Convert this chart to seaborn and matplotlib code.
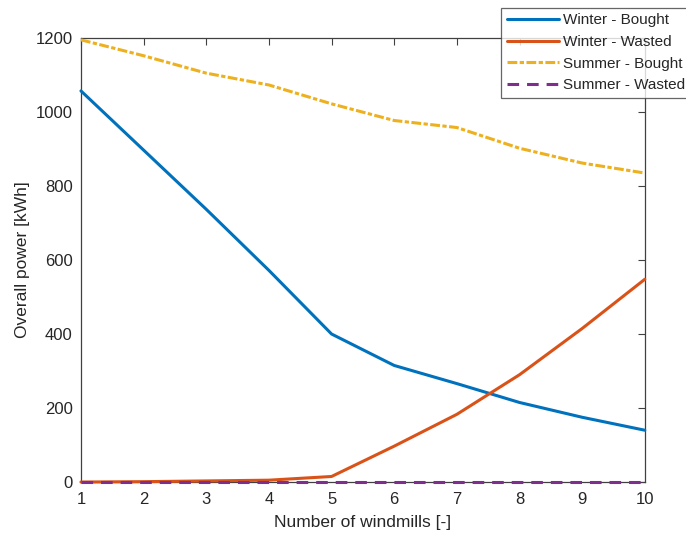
import matplotlib
matplotlib.use("Agg")
import matplotlib.pyplot as plt
import seaborn as sns
import pandas as pd

windmills = [1, 2, 3, 4, 5, 6, 7, 8, 9, 10]
winter_bought = [1057, 897, 737, 572, 400, 315, 266, 215, 175, 140]
winter_wasted = [0, 1, 3, 5, 15, 97, 183, 290, 415, 548]
summer_bought = [1195, 1152, 1105, 1073, 1022, 977, 958, 902, 862, 835]
summer_wasted = [0, 0, 0, 0, 0, 0, 0, 0, 0, 0]
series_names = ["Winter - Bought", "Winter - Wasted", "Summer - Bought", "Summer - Wasted"]

sns.set_theme(style="white")
plt.rcParams['font.family'] = ['Liberation Sans', 'DejaVu Sans']

rows = []
for name, vals in zip(series_names, [winter_bought, winter_wasted, summer_bought, summer_wasted]):
    for x, v in zip(windmills, vals):
        rows.append({"x": x, "y": v, "series": name})
df = pd.DataFrame(rows)

colors = {"Winter - Bought": "#0072BD", "Winter - Wasted": "#D95319",
          "Summer - Bought": "#EDB120", "Summer - Wasted": "#7E2F8E"}
dashes = {"Winter - Bought": "", "Winter - Wasted": "",
          "Summer - Bought": (3.2, 0.8, 1.4, 0.8), "Summer - Wasted": (3.8, 2.6)}

fig = plt.figure(figsize=(6.86, 5.35), dpi=100)
ax = fig.add_axes([0.118, 0.099, 0.822, 0.830])
sns.lineplot(data=df, x="x", y="y", hue="series", style="series",
             palette=colors, dashes=dashes, hue_order=series_names,
             style_order=series_names, linewidth=2.2, ax=ax, legend=True)
for i, ln in enumerate(ax.get_lines()):
    ln.set_clip_on(False)
    ln.set_zorder(3 + i)

ax.set_xlim(1, 10)
ax.set_ylim(0, 1200)
ax.set_xticks(windmills)
ax.set_yticks([0, 200, 400, 600, 800, 1000, 1200])
ax.set_xlabel("Number of windmills [-]", fontsize=12.5, color="#262626", labelpad=6)
ax.set_ylabel("Overall power [kWh]", fontsize=12.5, color="#262626", labelpad=4)
ax.tick_params(direction="in", top=True, right=True, length=5, width=0.8,
               colors="#404040", labelsize=12, labelcolor="#262626")
ax.tick_params(axis="x", pad=7)
ax.tick_params(axis="y", pad=6)
for s in ax.spines.values():
    s.set_color("#404040")
    s.set_linewidth(0.9)
    s.set_zorder(2)

h, l = ax.get_legend_handles_labels()
ax.legend_.remove()
leg = fig.legend(h, l, loc="upper left", bbox_to_anchor=(0.731, 0.985),
                 fontsize=11, frameon=True, fancybox=False, handlelength=3.4,
                 borderpad=0.35, labelspacing=0.5, handletextpad=0.25,
                 borderaxespad=0)
leg.get_frame().set_edgecolor("#404040")
leg.get_frame().set_linewidth(0.9)

fig.savefig("out.png", dpi=100)
